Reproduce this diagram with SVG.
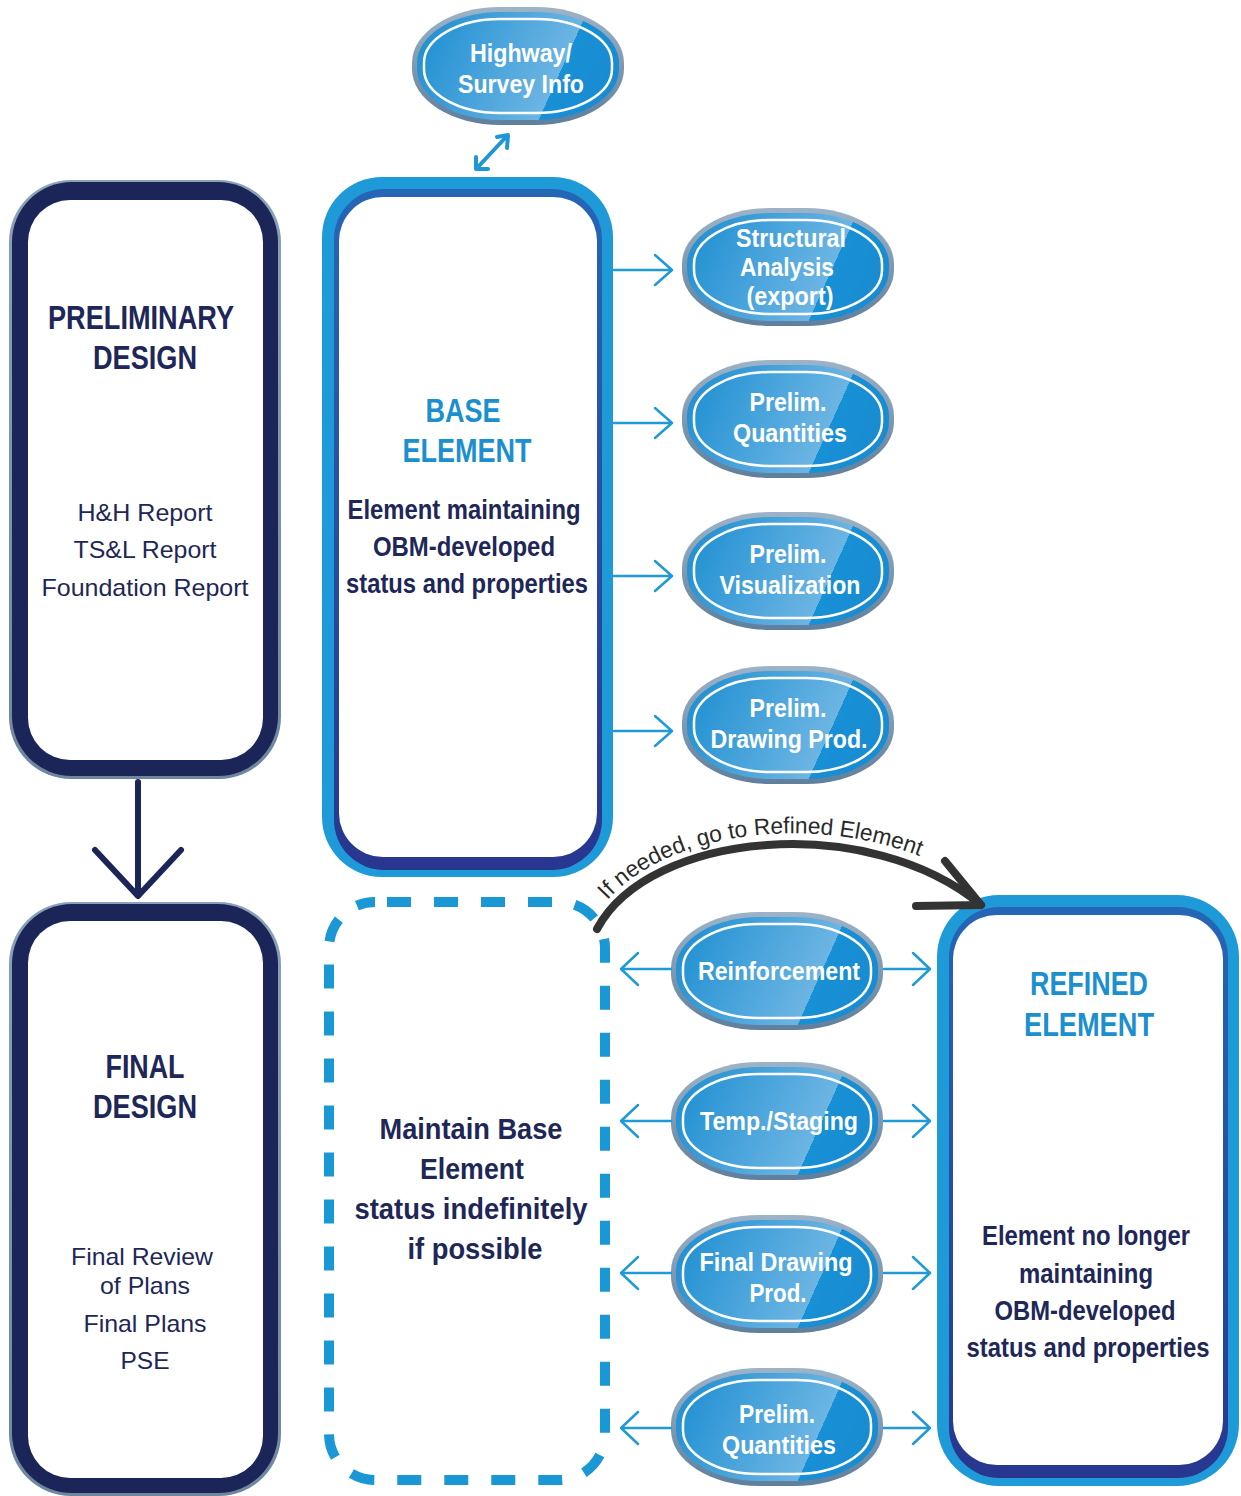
<svg xmlns="http://www.w3.org/2000/svg" xmlns:xlink="http://www.w3.org/1999/xlink" width="1241" height="1496" viewBox="0 0 1241 1496">
  <defs>
    <style>
      .head { font-family: "Liberation Sans Narrow", "Liberation Sans", Arial, sans-serif; font-weight: bold; text-anchor: middle; }
      .navy { fill: #1e2757; }
      .blue { fill: #1c8fcf; }
      .plain { font-family: "Liberation Sans", Arial, sans-serif; font-size: 24px; fill: #1e2757; text-anchor: middle; }
      .pilltxt { font-family: "Liberation Sans Narrow", "Liberation Sans", Arial, sans-serif; font-weight: bold; font-size: 25px; fill: #ffffff; text-anchor: middle; }
      .thin { fill: none; stroke: #1f9ad8; stroke-width: 2.5; stroke-linecap: round; stroke-linejoin: round; }
      .dbl { fill: none; stroke: #1f96d6; stroke-width: 4; stroke-linecap: round; stroke-linejoin: round; }
      .down { fill: none; stroke: #1c2558; stroke-width: 6; stroke-linecap: round; stroke-linejoin: round; }
      .curve { fill: none; stroke: #333333; stroke-width: 8; stroke-linecap: round; stroke-linejoin: round; }
      .curvetxt { font-family: "Liberation Sans", Arial, sans-serif; font-size: 23px; fill: #2a2a2a; }
    </style>
    <linearGradient id="pillFill" x1="0" y1="0.38" x2="1" y2="0.62">
      <stop offset="0" stop-color="#2391d3"/>
      <stop offset="0.71" stop-color="#6cb5e3"/>
      <stop offset="0.71" stop-color="#1790d6"/>
      <stop offset="1" stop-color="#1a8bd0"/>
    </linearGradient>
    <linearGradient id="pillRim" x1="0" y1="0" x2="0" y2="1">
      <stop offset="0" stop-color="#9db3c7"/>
      <stop offset="1" stop-color="#5f7f9c"/>
    </linearGradient>
    <linearGradient id="band" x1="0" y1="0" x2="0" y2="1">
      <stop offset="0" stop-color="#2566b6"/>
      <stop offset="1" stop-color="#28368f"/>
    </linearGradient>
    <linearGradient id="darkRim" x1="0" y1="0" x2="0" y2="1">
      <stop offset="0" stop-color="#8aa2b9"/>
      <stop offset="1" stop-color="#6e879f"/>
    </linearGradient>
    <!-- oval button used by all small process nodes, centred on 0,0 -->
    <g id="pill">
      <rect x="-106" y="-59" width="212" height="118" rx="88" ry="56" fill="url(#pillRim)"/>
      <rect x="-101" y="-54" width="202" height="108" rx="83" ry="51" fill="url(#pillFill)"/>
      <rect x="-94" y="-47" width="188" height="94" rx="76" ry="44" fill="none" stroke="#ffffff" stroke-width="2.5"/>
    </g>
    <path id="labelArc" d="M 588 928 C 644 818, 866 800, 988 894"/>
  </defs>

  <rect x="0" y="0" width="1241" height="1496" fill="#ffffff"/>

  <!-- phase columns -->
  <g id="preliminary-design">
    <rect x="9" y="180" width="272" height="599" rx="62" fill="url(#darkRim)"/>
    <rect x="12" y="182" width="266" height="594" rx="60" fill="#1c2558"/>
    <rect x="28" y="200" width="235" height="560" rx="42" fill="#ffffff"/>
    <text class="head navy" x="141" y="329" font-size="33" textLength="186" lengthAdjust="spacingAndGlyphs">PRELIMINARY</text>
    <text class="head navy" x="145" y="369" font-size="33" textLength="104" lengthAdjust="spacingAndGlyphs">DESIGN</text>
    <text class="plain" x="145" y="521" textLength="135" lengthAdjust="spacingAndGlyphs">H&amp;H Report</text>
    <text class="plain" x="145" y="558" textLength="143" lengthAdjust="spacingAndGlyphs">TS&amp;L Report</text>
    <text class="plain" x="145" y="596" textLength="207" lengthAdjust="spacingAndGlyphs">Foundation Report</text>
  </g>

  <g id="final-design">
    <rect x="9" y="902" width="272" height="594" rx="62" fill="url(#darkRim)"/>
    <rect x="12" y="904" width="266" height="589" rx="60" fill="#1c2558"/>
    <rect x="28" y="921" width="235" height="557" rx="42" fill="#ffffff"/>
    <text class="head navy" x="145" y="1078" font-size="33" textLength="79" lengthAdjust="spacingAndGlyphs">FINAL</text>
    <text class="head navy" x="145" y="1118" font-size="33" textLength="104" lengthAdjust="spacingAndGlyphs">DESIGN</text>
    <text class="plain" x="142" y="1265" textLength="142" lengthAdjust="spacingAndGlyphs">Final Review</text>
    <text class="plain" x="145" y="1294" textLength="90" lengthAdjust="spacingAndGlyphs">of Plans</text>
    <text class="plain" x="145" y="1332" textLength="123" lengthAdjust="spacingAndGlyphs">Final Plans</text>
    <text class="plain" x="145" y="1369" textLength="49" lengthAdjust="spacingAndGlyphs">PSE</text>
  </g>

  <!-- element states -->
  <g id="base-element">
    <rect x="322" y="177" width="291" height="700" rx="60" fill="#1f9ad9"/>
    <rect x="334" y="189" width="268" height="681" rx="50" fill="url(#band)"/>
    <rect x="339" y="197" width="258" height="660" rx="44" fill="#ffffff"/>
    <text class="head blue" x="463" y="422" font-size="33" textLength="75" lengthAdjust="spacingAndGlyphs">BASE</text>
    <text class="head blue" x="467" y="462" font-size="33" textLength="129" lengthAdjust="spacingAndGlyphs">ELEMENT</text>
    <text class="head navy" x="464" y="519" font-size="27" textLength="233" lengthAdjust="spacingAndGlyphs">Element maintaining</text>
    <text class="head navy" x="464" y="556" font-size="27" textLength="182" lengthAdjust="spacingAndGlyphs">OBM-developed</text>
    <text class="head navy" x="467" y="593" font-size="27" textLength="242" lengthAdjust="spacingAndGlyphs">status and properties</text>
  </g>

  <g id="maintain-base">
    <rect x="329" y="902" width="276" height="578" rx="46" fill="none" stroke="#1a97d5" stroke-width="10" stroke-dasharray="24 23" stroke-dashoffset="-12"/>
    <text class="head navy" x="471" y="1139" font-size="30" textLength="183" lengthAdjust="spacingAndGlyphs">Maintain Base</text>
    <text class="head navy" x="472" y="1179" font-size="30" textLength="104" lengthAdjust="spacingAndGlyphs">Element</text>
    <text class="head navy" x="471" y="1219" font-size="30" textLength="233" lengthAdjust="spacingAndGlyphs">status indefinitely</text>
    <text class="head navy" x="475" y="1259" font-size="30" textLength="135" lengthAdjust="spacingAndGlyphs">if possible</text>
  </g>

  <g id="refined-element">
    <rect x="937" y="895" width="302" height="591" rx="62" fill="#1f9ad9"/>
    <rect x="949" y="907" width="279" height="571" rx="50" fill="url(#band)"/>
    <rect x="953" y="915" width="270" height="550" rx="44" fill="#ffffff"/>
    <text class="head blue" x="1089" y="995" font-size="33" textLength="118" lengthAdjust="spacingAndGlyphs">REFINED</text>
    <text class="head blue" x="1089" y="1036" font-size="33" textLength="130" lengthAdjust="spacingAndGlyphs">ELEMENT</text>
    <text class="head navy" x="1086" y="1245" font-size="27" textLength="208" lengthAdjust="spacingAndGlyphs">Element no longer</text>
    <text class="head navy" x="1086" y="1283" font-size="27" textLength="134" lengthAdjust="spacingAndGlyphs">maintaining</text>
    <text class="head navy" x="1085" y="1320" font-size="27" textLength="181" lengthAdjust="spacingAndGlyphs">OBM-developed</text>
    <text class="head navy" x="1088" y="1357" font-size="27" textLength="243" lengthAdjust="spacingAndGlyphs">status and properties</text>
  </g>

  <!-- process nodes -->
  <g id="highway-survey">
    <use xlink:href="#pill" href="#pill" transform="translate(518,66)"/>
    <text class="pilltxt" x="521" y="62" textLength="102" lengthAdjust="spacingAndGlyphs">Highway/</text>
    <text class="pilltxt" x="521" y="93" textLength="126" lengthAdjust="spacingAndGlyphs">Survey Info</text>
  </g>
  <g id="structural-analysis">
    <use xlink:href="#pill" href="#pill" transform="translate(788,267)"/>
    <text class="pilltxt" x="791" y="247" textLength="110" lengthAdjust="spacingAndGlyphs">Structural</text>
    <text class="pilltxt" x="787" y="276" textLength="94" lengthAdjust="spacingAndGlyphs">Analysis</text>
    <text class="pilltxt" x="790" y="305" textLength="87" lengthAdjust="spacingAndGlyphs">(export)</text>
  </g>
  <g id="prelim-quantities">
    <use xlink:href="#pill" href="#pill" transform="translate(788,419)"/>
    <text class="pilltxt" x="788" y="411" textLength="77" lengthAdjust="spacingAndGlyphs">Prelim.</text>
    <text class="pilltxt" x="790" y="442" textLength="114" lengthAdjust="spacingAndGlyphs">Quantities</text>
  </g>
  <g id="prelim-visualization">
    <use xlink:href="#pill" href="#pill" transform="translate(788,571)"/>
    <text class="pilltxt" x="788" y="563" textLength="77" lengthAdjust="spacingAndGlyphs">Prelim.</text>
    <text class="pilltxt" x="790" y="594" textLength="141" lengthAdjust="spacingAndGlyphs">Visualization</text>
  </g>
  <g id="prelim-drawing">
    <use xlink:href="#pill" href="#pill" transform="translate(788,725)"/>
    <text class="pilltxt" x="788" y="717" textLength="77" lengthAdjust="spacingAndGlyphs">Prelim.</text>
    <text class="pilltxt" x="789" y="748" textLength="157" lengthAdjust="spacingAndGlyphs">Drawing Prod.</text>
  </g>
  <g id="reinforcement">
    <use xlink:href="#pill" href="#pill" transform="translate(777,971)"/>
    <text class="pilltxt" x="779" y="980" textLength="162" lengthAdjust="spacingAndGlyphs">Reinforcement</text>
  </g>
  <g id="temp-staging">
    <use xlink:href="#pill" href="#pill" transform="translate(777,1121)"/>
    <text class="pilltxt" x="779" y="1130" textLength="158" lengthAdjust="spacingAndGlyphs">Temp./Staging</text>
  </g>
  <g id="final-drawing">
    <use xlink:href="#pill" href="#pill" transform="translate(777,1274)"/>
    <text class="pilltxt" x="776" y="1271" textLength="153" lengthAdjust="spacingAndGlyphs">Final Drawing</text>
    <text class="pilltxt" x="778" y="1302" textLength="57" lengthAdjust="spacingAndGlyphs">Prod.</text>
  </g>
  <g id="prelim-quantities-final">
    <use xlink:href="#pill" href="#pill" transform="translate(777,1427)"/>
    <text class="pilltxt" x="777" y="1423" textLength="76" lengthAdjust="spacingAndGlyphs">Prelim.</text>
    <text class="pilltxt" x="779" y="1454" textLength="114" lengthAdjust="spacingAndGlyphs">Quantities</text>
  </g>

  <!-- connectors -->
  <g id="connectors">
    <!-- preliminary to final -->
    <path class="down" d="M 138 782 L 138 895"/>
    <path class="down" d="M 95 850 L 138 896 L 181 850"/>
    <!-- highway info exchange -->
    <path class="dbl" d="M 477 168 L 507 136"/>
    <path class="dbl" d="M 497 137 L 508 135 L 507 148"/>
    <path class="dbl" d="M 476 157 L 476 169 L 488 169"/>
    <!-- base element outputs -->
    <path class="thin" d="M 614 270 L 672 270 M 655 255 L 672 270 L 655 285"/>
    <path class="thin" d="M 614 423 L 672 423 M 655 408 L 672 423 L 655 438"/>
    <path class="thin" d="M 614 576 L 672 576 M 655 561 L 672 576 L 655 591"/>
    <path class="thin" d="M 614 731 L 672 731 M 655 716 L 672 731 L 655 746"/>
    <!-- refinement tasks: back to base / on to refined -->
    <path class="thin" d="M 671 969 L 621 969 M 638 953 L 621 969 L 638 985"/>
    <path class="thin" d="M 884 969 L 930 969 M 913 953 L 930 969 L 913 985"/>
    <path class="thin" d="M 671 1121 L 621 1121 M 638 1105 L 621 1121 L 638 1137"/>
    <path class="thin" d="M 884 1121 L 930 1121 M 913 1105 L 930 1121 L 913 1137"/>
    <path class="thin" d="M 671 1273 L 621 1273 M 638 1257 L 621 1273 L 638 1289"/>
    <path class="thin" d="M 884 1273 L 930 1273 M 913 1257 L 930 1273 L 913 1289"/>
    <path class="thin" d="M 671 1428 L 621 1428 M 638 1412 L 621 1428 L 638 1444"/>
    <path class="thin" d="M 884 1428 L 930 1428 M 913 1412 L 930 1428 L 913 1444"/>
    <!-- escalation to refined element -->
    <path class="curve" d="M 597 929 C 650 830, 870 812, 981 905"/>
    <path class="curve" d="M 945 861 L 981 905 L 916 906"/>
    <text class="curvetxt"><textPath xlink:href="#labelArc" href="#labelArc" startOffset="34" textLength="332" lengthAdjust="spacingAndGlyphs">If needed, go to Refined Element</textPath></text>
  </g>
</svg>
